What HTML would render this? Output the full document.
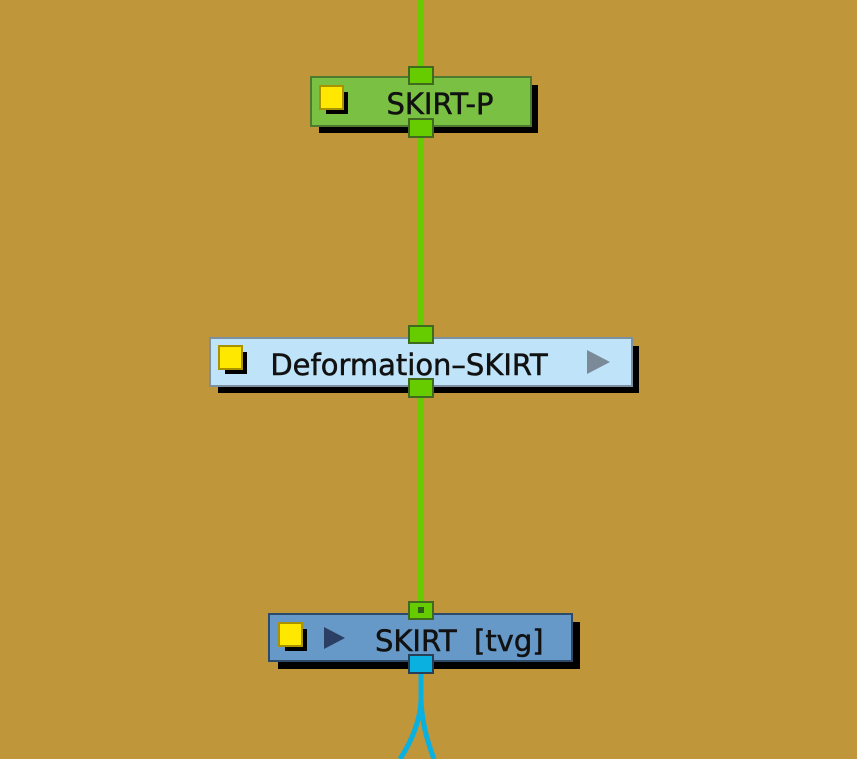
<!DOCTYPE html>
<html><head><style>
html,body{margin:0;padding:0;background:#bf963a;}
svg{display:block}
text{font-family:"DejaVu Sans","Liberation Sans",sans-serif;font-size:29px;fill:#111;stroke:#111;stroke-width:0.5;}
</style></head><body>
<svg width="857" height="759" viewBox="0 0 857 759" xmlns="http://www.w3.org/2000/svg">
<rect width="857" height="759" fill="#bf963a"/>
<rect x="418" y="0" width="6" height="612" fill="#66cc00"/>
<path d="M421,673 L421,700 Q420,728 400,759" stroke="#0ab0e0" stroke-width="5" fill="none"/>
<path d="M421,673 L421,700 Q422,728 434,759" stroke="#0ab0e0" stroke-width="5" fill="none"/>

<rect x="319" y="85" width="219" height="48" fill="#000"/>
<rect x="311" y="77" width="220" height="49" fill="#7ac143" stroke="#4e7a30" stroke-width="2"/>
<rect x="326" y="92" width="22" height="22" fill="#000"/>
<rect x="320" y="86" width="23" height="23" fill="#ffe800" stroke="#a89200" stroke-width="2"/>
<text x="440" y="114" text-anchor="middle">SKIRT-P</text>
<rect x="409" y="67" width="24" height="17" fill="#66cc00" stroke="#3f6a20" stroke-width="2"/>
<rect x="409" y="119" width="24" height="18" fill="#66cc00" stroke="#3f6a20" stroke-width="2"/>

<rect x="218" y="346" width="421" height="47" fill="#000"/>
<rect x="210" y="338" width="422" height="48" fill="#bfe3f8" stroke="#7c90a0" stroke-width="2"/>
<rect x="225" y="352" width="22" height="22" fill="#000"/>
<rect x="219" y="346" width="23" height="23" fill="#ffe800" stroke="#a89200" stroke-width="2"/>
<text x="409" y="375" text-anchor="middle">Deformation–SKIRT</text>
<polygon points="587,350 610,362 587,374" fill="#7a8a98"/>
<rect x="409" y="326" width="24" height="17" fill="#66cc00" stroke="#3f6a20" stroke-width="2"/>
<rect x="409" y="379" width="24" height="18" fill="#66cc00" stroke="#3f6a20" stroke-width="2"/>

<rect x="278" y="622" width="302" height="47" fill="#000"/>
<rect x="269" y="614" width="303" height="47" fill="#6699c8" stroke="#2e4a6a" stroke-width="2"/>
<rect x="285" y="629" width="22" height="22" fill="#000"/>
<rect x="279" y="623" width="23" height="23" fill="#ffe800" stroke="#a89200" stroke-width="2"/>
<polygon points="324,627 345,638 324,649" fill="#2a3f63"/>
<text x="375" y="651">SKIRT</text>
<text x="474" y="651">[tvg]</text>
<rect x="409" y="602" width="24" height="17" fill="#66cc00" stroke="#3f6a20" stroke-width="2"/>
<rect x="418" y="607" width="6" height="6" fill="#2e5a1a"/>
<rect x="409" y="655" width="24" height="18" fill="#0ab0e0" stroke="#2a3f55" stroke-width="2"/>
</svg>
</body></html>
